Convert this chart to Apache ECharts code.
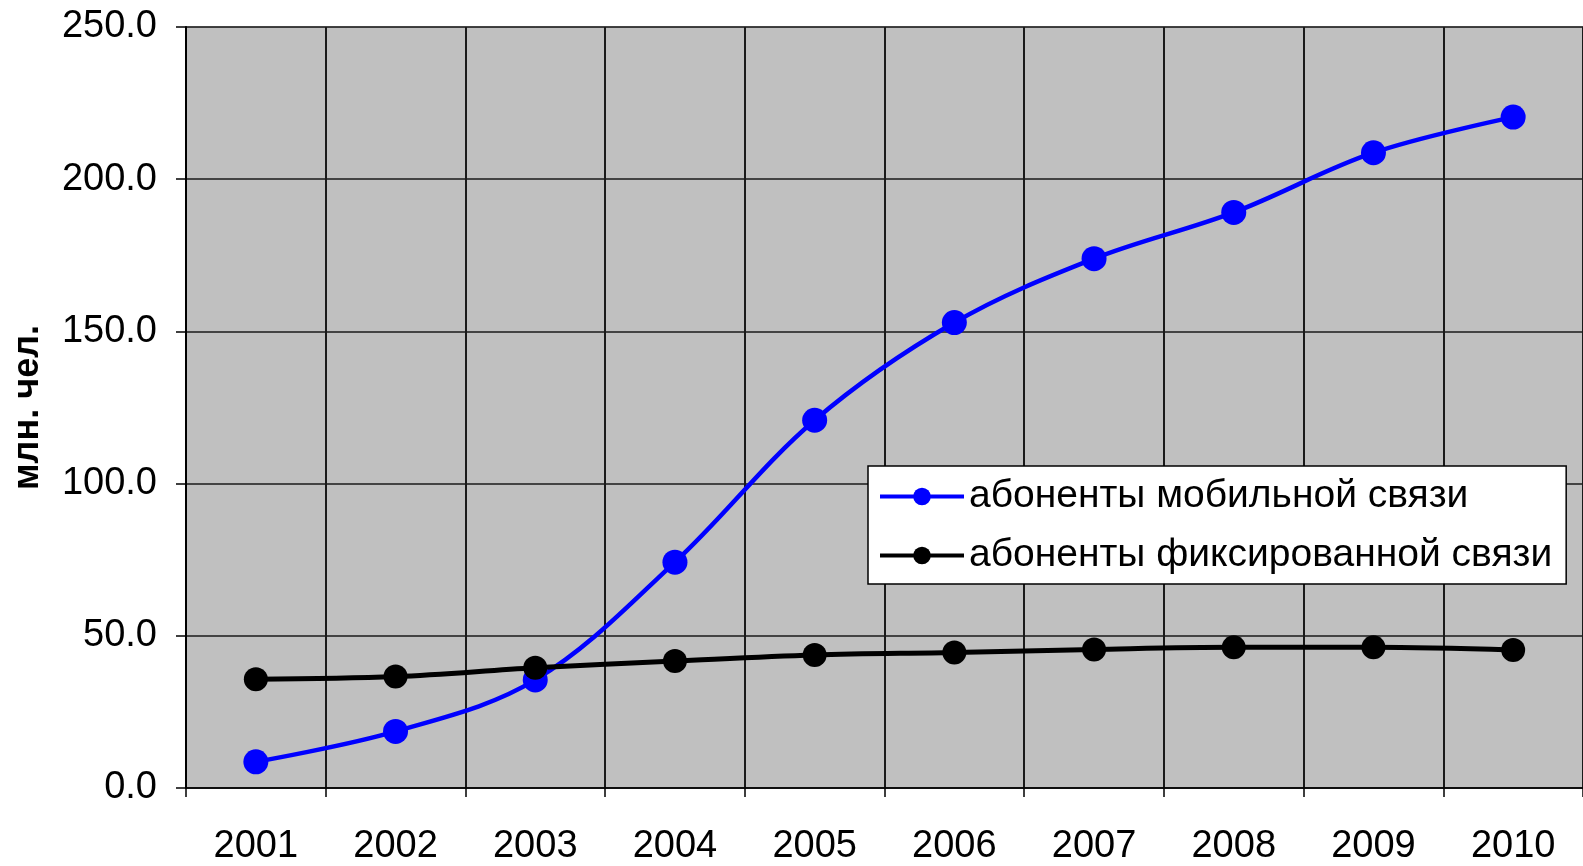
<!DOCTYPE html>
<html>
<head>
<meta charset="utf-8">
<script src="https://cdn.jsdelivr.net/npm/echarts@6/dist/echarts.min.js"></script>
<style>
html,body{margin:0;padding:0;background:#fff;}
#chart{width:1583px;height:866px;}
</style>
</head>
<body>
<div id="chart"></div>
<script>
const years = ['2001','2002','2003','2004','2005','2006','2007','2008','2009','2010'];
const mobileSubscribers = [8.6, 18.6, 35.5, 74.2, 120.8, 152.9, 173.9, 189.1, 208.7, 220.4];
const fixedSubscribers = [35.7, 36.6, 39.5, 41.7, 43.7, 44.5, 45.5, 46.2, 46.2, 45.3];
const mobileName = 'абоненты мобильной связи';
const fixedName = 'абоненты фиксированной связи';
const yAxisName = 'млн. чел.';

const FONT = '"Liberation Sans", Arial, sans-serif';
const chart = echarts.init(document.getElementById('chart'), null, {renderer: 'canvas'});
chart.setOption({
  backgroundColor: '#ffffff',
  animation: false,
  grid: {
    left: 186, right: -13, top: 27, bottom: 74,
    show: true, backgroundColor: '#C0C0C0', borderColor: '#808080', borderWidth: 1
  },
  legend: {
    orient: 'vertical',
    left: 868, top: 466,
    backgroundColor: '#ffffff',
    borderColor: '#000000', borderWidth: 1.5,
    padding: [11, 14, 9, 10],
    itemWidth: 84, itemHeight: 22, itemGap: 20,
    lineStyle: {width: 4},
    textStyle: {fontFamily: FONT, fontSize: 39, color: '#000'},
    data: [mobileName, fixedName]
  },
  xAxis: {
    type: 'category',
    data: years,
    boundaryGap: true,
    axisLine: {show: true, lineStyle: {color: '#000', width: 1.5}},
    axisTick: {show: true, length: 9, interval: 0, lineStyle: {color: '#000', width: 1.5}},
    axisLabel: {margin: 40, fontFamily: FONT, fontSize: 38, color: '#000', interval: 0},
    splitLine: {show: true, interval: 0, lineStyle: {color: '#1a1a1a', width: 2}}
  },
  yAxis: {
    type: 'value',
    min: 0, max: 250, interval: 50,
    name: yAxisName,
    nameLocation: 'middle',
    nameRotate: 90,
    nameGap: 140,
    nameTextStyle: {fontFamily: FONT, fontSize: 36, fontWeight: 'bold', color: '#000'},
    axisLine: {show: true, lineStyle: {color: '#000', width: 2}},
    axisTick: {show: true, length: 10, lineStyle: {color: '#000', width: 1.5}},
    axisLabel: {margin: 29, fontFamily: FONT, fontSize: 38, color: '#000',
      formatter: v => v.toFixed(1)},
    splitLine: {show: true, lineStyle: {color: '#1a1a1a', width: 1.5}}
  },
  series: [
    {
      name: mobileName,
      type: 'line',
      data: mobileSubscribers,
      smooth: 0.35,
      symbol: 'circle',
      symbolSize: 25,
      lineStyle: {color: '#0000FF', width: 4.5},
      itemStyle: {color: '#0000FF'},
      z: 3
    },
    {
      name: fixedName,
      type: 'line',
      data: fixedSubscribers,
      smooth: 0.35,
      symbol: 'circle',
      symbolSize: 24,
      lineStyle: {color: '#000000', width: 5},
      itemStyle: {color: '#000000'},
      z: 4
    }
  ]
});
</script>
</body>
</html>
